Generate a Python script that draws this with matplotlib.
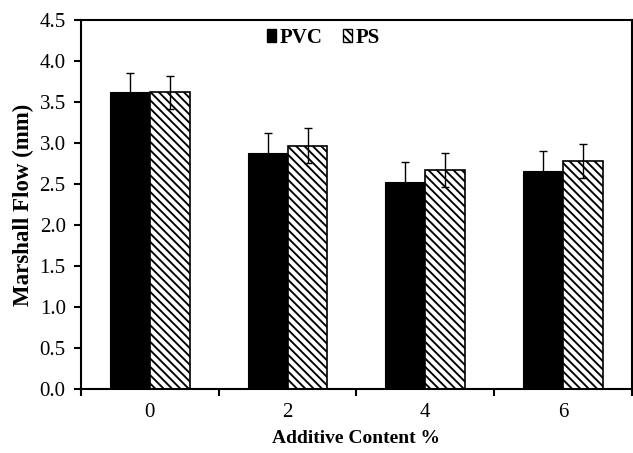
import numpy as np
import matplotlib.pyplot as plt
from matplotlib.patches import Patch

plt.rcParams['font.family'] = 'Liberation Serif'
plt.rcParams['hatch.linewidth'] = 1.35

# data
contents = ['0', '2', '4', '6']
pvc = [3.62, 2.88, 2.53, 2.66]
pvc_err = [0.24, 0.24, 0.24, 0.24]
ps = [3.62, 2.97, 2.67, 2.78]
ps_err = [0.20, 0.21, 0.21, 0.21]

x = np.arange(len(contents))
w = 0.29

fig = plt.figure(figsize=(6.33, 4.53), dpi=100)
ax = fig.add_axes([0.128, 0.141, 0.870, 0.8146])

ax.bar(x - w/2, pvc, w, color='black', edgecolor='black', linewidth=0.8, zorder=2)
ax.bar(x + w/2, ps, w, color='white', edgecolor='black', hatch='\\\\\\\\',
       linewidth=1.2, zorder=2)
ax.errorbar(x - w/2, pvc, yerr=pvc_err, fmt='none', ecolor='black',
            elinewidth=1, capsize=3, capthick=1, zorder=3)
ax.errorbar(x + w/2, ps, yerr=ps_err, fmt='none', ecolor='black',
            elinewidth=1, capsize=3, capthick=1, zorder=3)

ax.set_xlim(-0.5, len(contents) - 0.5)
ax.set_ylim(0, 4.5)
ax.set_yticks(np.arange(0, 4.51, 0.5))
ax.set_yticklabels(['%.1f' % v for v in np.arange(0, 4.51, 0.5)])
ax.set_xticks(x)
ax.set_xticklabels(contents)
ax.set_xticks(np.arange(-0.5, len(contents)), minor=True)
ax.tick_params(axis='x', which='major', length=0, pad=10, labelsize=15)
ax.tick_params(axis='x', which='minor', length=5, width=1.5, direction='out')
ax.tick_params(axis='y', length=5, width=1.5, direction='out', labelsize=15, pad=6)
for s in ax.spines.values():
    s.set_linewidth(1.5)

ax.set_xlabel('Additive Content %', fontsize=14, fontweight='bold', labelpad=6)
ax.set_ylabel('Marshall Flow (mm)', fontsize=16.5, fontweight='bold', labelpad=4)

handles = [Patch(facecolor='black', edgecolor='black'),
           Patch(facecolor='white', edgecolor='black', hatch='\\\\\\\\')]
ax.legend(handles, ['PVC', 'PS'], loc='upper center', bbox_to_anchor=(0.44, 1.03),
          ncol=2, frameon=False, prop={'weight': 'bold', 'size': 15},
          handlelength=0.45, handleheight=0.55, handletextpad=0.15, columnspacing=1.0)

fig.savefig('out.png', dpi=100)
